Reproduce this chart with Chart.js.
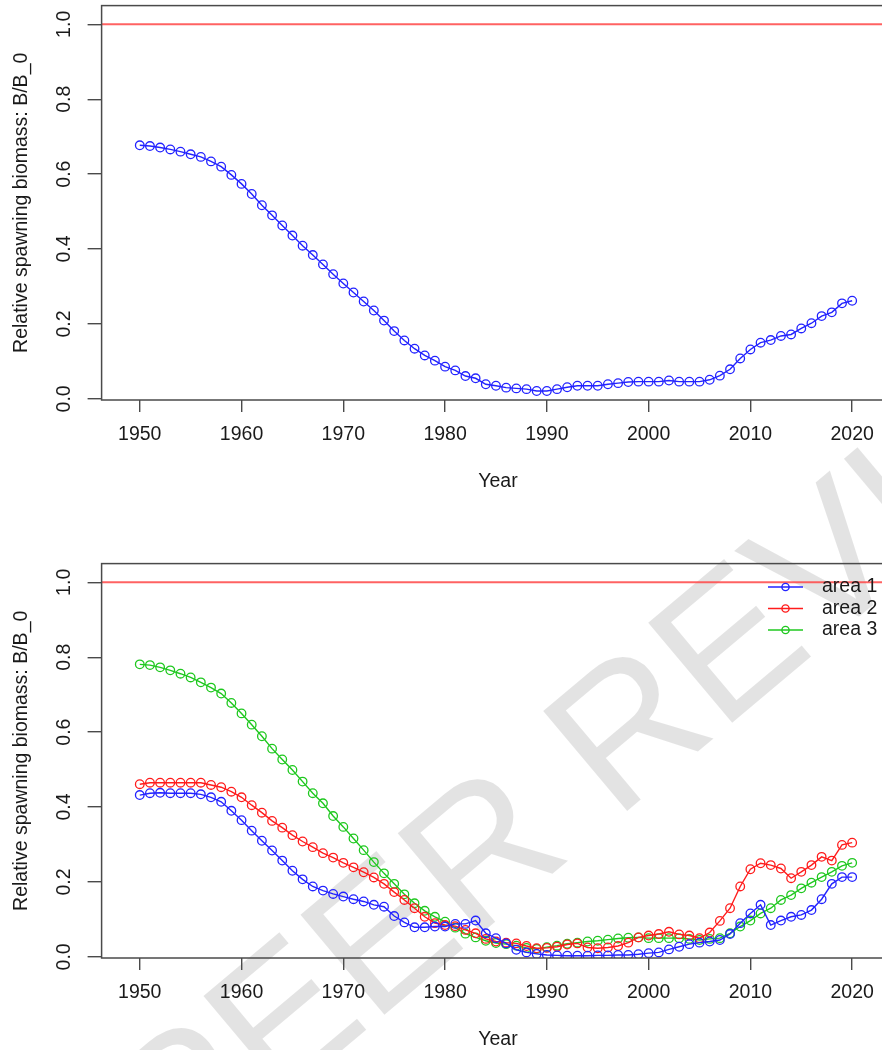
<!DOCTYPE html>
<html>
<head>
<meta charset="utf-8">
<script src="https://cdn.jsdelivr.net/npm/chart.js@4.4.0/dist/chart.umd.min.js"></script>
<style>
  html, body { margin: 0; padding: 0; background: #fff; }
  body { width: 882px; height: 1050px; overflow: hidden; position: relative; }
  .panel { position: absolute; left: 0; width: 900px; height: 558px; z-index: 1; }
  #topPanel { top: 0; }
  #bottomPanel { top: 558px; }
  .watermark {
    position: absolute; left: 136px; top: 1042px; z-index: 0;
    transform-origin: 0 50%; transform: rotate(-40deg);
    font: 190px "Liberation Sans", Arial, sans-serif; line-height: 1;
    color: rgba(0, 0, 0, 0.11); white-space: nowrap;
  }
</style>
</head>
<body>
<div class="watermark">PEER REVIEW</div>
<div class="panel" id="topPanel"><canvas id="topChart"></canvas></div>
<div class="panel" id="bottomPanel"><canvas id="bottomChart"></canvas></div>
<script>
// --- data ---
const years = [1950, 1951, 1952, 1953, 1954, 1955, 1956, 1957, 1958, 1959,
               1960, 1961, 1962, 1963, 1964, 1965, 1966, 1967, 1968, 1969,
               1970, 1971, 1972, 1973, 1974, 1975, 1976, 1977, 1978, 1979,
               1980, 1981, 1982, 1983, 1984, 1985, 1986, 1987, 1988, 1989,
               1990, 1991, 1992, 1993, 1994, 1995, 1996, 1997, 1998, 1999,
               2000, 2001, 2002, 2003, 2004, 2005, 2006, 2007, 2008, 2009,
               2010, 2011, 2012, 2013, 2014, 2015, 2016, 2017, 2018, 2019, 2020];

const totalBiomass = [0.677, 0.675, 0.671, 0.666, 0.660, 0.653, 0.646, 0.634, 0.620, 0.598,
                      0.574, 0.547, 0.517, 0.490, 0.463, 0.436, 0.409, 0.384, 0.359, 0.333,
                      0.308, 0.284, 0.260, 0.236, 0.209, 0.181, 0.156, 0.134, 0.116, 0.102,
                      0.086, 0.076, 0.061, 0.055, 0.039, 0.035, 0.030, 0.028, 0.026, 0.021,
                      0.021, 0.026, 0.031, 0.035, 0.035, 0.035, 0.039, 0.042, 0.045, 0.046,
                      0.046, 0.046, 0.049, 0.046, 0.046, 0.046, 0.051, 0.062, 0.079, 0.108,
                      0.132, 0.150, 0.157, 0.168, 0.172, 0.188, 0.202, 0.221, 0.231, 0.255, 0.262];

const area1 = [0.432, 0.437, 0.438, 0.437, 0.437, 0.437, 0.434, 0.426, 0.414, 0.390,
               0.365, 0.337, 0.310, 0.284, 0.257, 0.230, 0.207, 0.188, 0.177, 0.168,
               0.161, 0.154, 0.148, 0.139, 0.134, 0.109, 0.092, 0.079, 0.079, 0.081,
               0.081, 0.088, 0.088, 0.097, 0.063, 0.050, 0.036, 0.019, 0.012, 0.008,
               0.005, 0.004, 0.003, 0.003, 0.003, 0.004, 0.004, 0.005, 0.005, 0.007,
               0.010, 0.012, 0.020, 0.027, 0.034, 0.038, 0.041, 0.045, 0.061, 0.090,
               0.116, 0.139, 0.085, 0.097, 0.107, 0.112, 0.125, 0.154, 0.195, 0.213, 0.213];

const area2 = [0.461, 0.465, 0.465, 0.465, 0.465, 0.465, 0.465, 0.459, 0.453, 0.441,
               0.426, 0.405, 0.385, 0.363, 0.345, 0.325, 0.308, 0.293, 0.277, 0.265,
               0.251, 0.239, 0.226, 0.212, 0.195, 0.173, 0.152, 0.130, 0.107, 0.090,
               0.085, 0.082, 0.072, 0.063, 0.048, 0.041, 0.038, 0.036, 0.029, 0.023,
               0.024, 0.027, 0.033, 0.036, 0.025, 0.023, 0.025, 0.029, 0.038, 0.052,
               0.057, 0.061, 0.067, 0.060, 0.057, 0.050, 0.065, 0.096, 0.130, 0.188,
               0.234, 0.250, 0.245, 0.236, 0.210, 0.227, 0.245, 0.267, 0.257, 0.299, 0.305];

const area3 = [0.781, 0.779, 0.773, 0.765, 0.756, 0.746, 0.733, 0.719, 0.703, 0.678,
               0.650, 0.620, 0.589, 0.556, 0.527, 0.499, 0.468, 0.437, 0.410, 0.376,
               0.347, 0.316, 0.285, 0.253, 0.223, 0.195, 0.167, 0.143, 0.123, 0.107,
               0.094, 0.078, 0.062, 0.052, 0.043, 0.037, 0.034, 0.030, 0.024, 0.021,
               0.026, 0.030, 0.035, 0.038, 0.041, 0.043, 0.046, 0.049, 0.051, 0.052,
               0.050, 0.050, 0.050, 0.050, 0.048, 0.045, 0.048, 0.050, 0.063, 0.081,
               0.097, 0.116, 0.130, 0.152, 0.165, 0.183, 0.198, 0.213, 0.227, 0.243, 0.251];

const areaNames = ['area 1', 'area 2', 'area 3'];
const xTicks = [1950, 1960, 1970, 1980, 1990, 2000, 2010, 2020];
const yTicks = [0.0, 0.2, 0.4, 0.6, 0.8, 1.0];
const refLevel = 1.0;   // B/B_0 = 1

const BLUE = '#2323ff', RED = '#ff1c1c', GREEN = '#1fc81f';
const FONT = { family: '"Liberation Sans", Arial, sans-serif', size: 19.5 };
const TEXT = '#1a1a1a', AXIS = '#4a4a4a';

function series(values, color, label) {
    return {
        label: label,
        data: years.map((yr, i) => ({ x: yr, y: values[i] })),
        borderColor: color,
        borderWidth: 1.4,
        pointStyle: 'circle',
        pointRadius: 4.3,
        pointBorderWidth: 1.3,
        pointBorderColor: color,
        pointBackgroundColor: 'rgba(0,0,0,0)',
        tension: 0
    };
}

// red reference line + frame around the plot region
const framePlugin = {
    id: 'frame',
    beforeDatasetsDraw(chart) {
        const { ctx, chartArea, scales } = chart;
        const y = scales.y.getPixelForValue(refLevel);
        ctx.save();
        ctx.strokeStyle = 'rgba(255,70,70,0.85)';
        ctx.lineWidth = 2;
        ctx.beginPath();
        ctx.moveTo(chartArea.left, y);
        ctx.lineTo(chartArea.right, y);
        ctx.stroke();
        ctx.restore();
    },
    afterDraw(chart) {
        const { ctx, chartArea } = chart;
        ctx.save();
        ctx.strokeStyle = AXIS;
        ctx.lineWidth = 1.5;
        ctx.strokeRect(chartArea.left, chartArea.top, chartArea.right - chartArea.left, chartArea.bottom - chartArea.top);
        ctx.restore();
    }
};

// R-style legend: line with a circle in the middle
const areaLegend = {
    id: 'areaLegend',
    afterDraw(chart, args, opts) {
        if (!opts.show) return;
        const ctx = chart.ctx;
        ctx.save();
        ctx.font = FONT.size + 'px ' + FONT.family;
        ctx.textBaseline = 'middle';
        ctx.textAlign = 'left';
        chart.data.datasets.forEach((ds, i) => {
            const y = 29 + i * 21.5;
            ctx.strokeStyle = ds.borderColor;
            ctx.lineWidth = 1.4;
            ctx.beginPath();
            ctx.moveTo(768, y);
            ctx.lineTo(803, y);
            ctx.stroke();
            ctx.beginPath();
            ctx.arc(785.5, y, 3.6, 0, Math.PI * 2);
            ctx.stroke();
            ctx.fillStyle = TEXT;
            ctx.fillText(ds.label, 822, y);
        });
        ctx.restore();
    }
};

function makeChart(id, datasets, showLegend) {
    return new Chart(document.getElementById(id), {
        type: 'line',
        data: { datasets: datasets },
        plugins: [framePlugin, areaLegend],
        options: {
            animation: false,
            responsive: true,
            maintainAspectRatio: false,
            layout: { padding: { top: 5, left: 0, right: 0, bottom: 0 } },
            plugins: {
                legend: { display: false },
                tooltip: { enabled: false },
                areaLegend: { show: showLegend }
            },
            scales: {
                x: {
                    type: 'linear',
                    min: 1946.25,
                    max: 2024.15,
                    afterBuildTicks: s => { s.ticks = xTicks.map(v => ({ value: v })); },
                    afterFit: s => { s.height = 158; s.paddingLeft = 0; s.paddingRight = 0; },
                    border: { display: false },
                    grid: { drawOnChartArea: false, drawTicks: true, tickLength: 12, color: AXIS, lineWidth: 1.4 },
                    ticks: { font: FONT, color: TEXT, padding: 11, maxRotation: 0, autoSkip: false,
                             callback: v => String(v) },
                    title: { display: true, text: 'Year', font: FONT, color: TEXT, padding: { top: 0, bottom: 65 } }
                },
                y: {
                    type: 'linear',
                    min: -0.003,
                    max: 1.05,
                    afterBuildTicks: s => { s.ticks = yTicks.map(v => ({ value: v })); },
                    afterFit: s => { s.width = 101.6; s.paddingTop = 0; s.paddingBottom = 0; },
                    border: { display: false },
                    grid: { drawOnChartArea: false, drawTicks: true, tickLength: 14, color: AXIS, lineWidth: 1.4 },
                    ticks: { font: FONT, color: TEXT, padding: 9, minRotation: 90, maxRotation: 90,
                             crossAlign: 'center', autoSkip: false, callback: v => v.toFixed(1) },
                    title: { display: true, text: 'Relative spawning biomass: B/B_0', font: FONT, color: TEXT,
                             padding: { top: 10, bottom: 0 } }
                }
            }
        }
    });
}

makeChart('topChart', [series(totalBiomass, BLUE, 'total')], false);
makeChart('bottomChart', [
    series(area1, BLUE, areaNames[0]),
    series(area2, RED, areaNames[1]),
    series(area3, GREEN, areaNames[2])
], true);
</script>
</body>
</html>
